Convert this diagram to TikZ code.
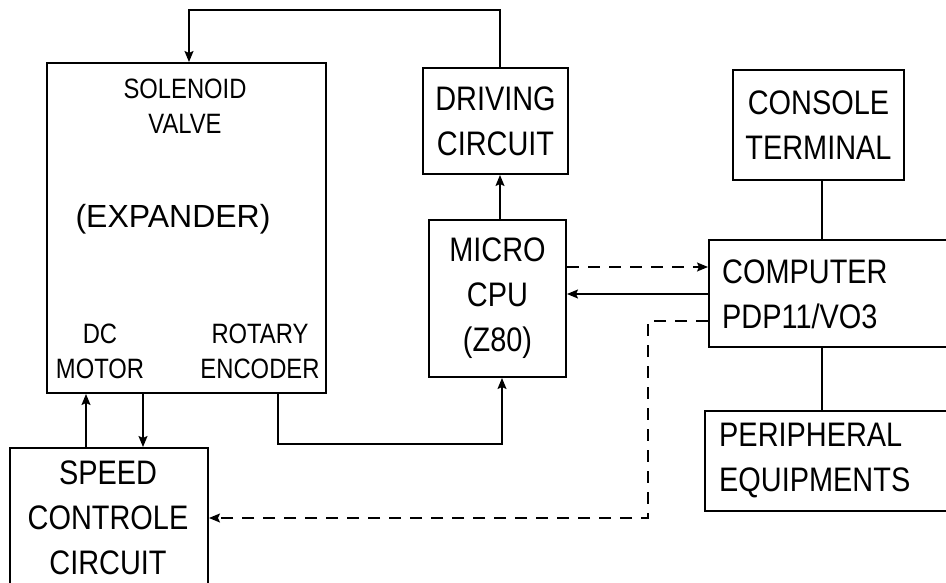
\documentclass[tikz,border=0pt]{standalone}
\usepackage{fontspec}
\setmainfont{Liberation Sans}[FakeStretch=0.85]
\newfontfamily\widefont{Liberation Sans}
\usetikzlibrary{arrows.meta,calc}
\tikzset{
  blk/.style={draw,line width=2pt,inner sep=0pt},
  big/.style={font=\fontsize{34}{45}\selectfont,align=center,inner sep=0pt},
  bigl/.style={font=\fontsize{34}{45}\selectfont,align=left,inner sep=0pt,anchor=west},
  small/.style={font=\fontsize{28}{35}\selectfont,align=center,inner sep=0pt},
  conn/.style={line width=1.4pt},
  arr/.style={conn,-{Stealth[length=11pt,width=9pt,inset=2pt]}},
  dsh/.style={dash pattern=on 12pt off 9pt}
}
\begin{document}
\begin{tikzpicture}[x=1pt,y=-1pt]
\useasboundingbox (0,0) rectangle (946,583);
% boxes
\node[blk,minimum width=279pt,minimum height=330pt] (exp) at (186.5,228) {};
\node[blk,big,minimum width=145pt,minimum height=106pt] (drv) at (495.5,121) {DRIVING\\CIRCUIT};
\node[blk,big,minimum width=137pt,minimum height=157pt] (cpu) at (497.5,298.5) {MICRO\\CPU\\(Z80)};
\node[blk,big,minimum width=171pt,minimum height=110pt] (con) at (818.5,125) {CONSOLE\\TERMINAL};
\node[blk,minimum width=251pt,minimum height=107pt] (comp) at (834.5,293.5) {};
\node[blk,minimum width=255pt,minimum height=100pt] (per) at (832.5,461) {};
\node[blk,minimum width=198pt,minimum height=160pt] (spd) at (109,528) {};
% texts
\node[small] (sol) at (185,106) {SOLENOID\\VALVE};
\node[font=\widefont\fontsize{32}{36}\selectfont,inner sep=0pt] (expt) at (173,219) {(EXPANDER)};
\node[small] (dcm) at (100,351) {DC\\MOTOR};
\node[small] (rot) at (260,351) {ROTARY\\ENCODER};
\node[bigl] (compt) at (722,294) {COMPUTER\\PDP11/VO3};
\node[bigl] (pert) at (719,461) {PERIPHERAL\\EQUIPMENTS};
\node[big] (spdt) at (108,518) {SPEED\\CONTROLE\\CIRCUIT};
% coordinates
\coordinate (tl) at (189,10);
\coordinate (tr) at (500,10);
\coordinate (e1) at (278,444);
\coordinate (e2) at (502,444);
\coordinate (m1) at (86,0);
\coordinate (m2) at (143,0);
\coordinate (d1) at (0,267);
\coordinate (s1) at (0,294);
\coordinate (d2) at (648,321);
\coordinate (d3) at (648,518);
\coordinate (vc) at (822,0);
% connectors
\draw[arr] (tr |- drv.north) -- (tr) -- (tl) -- (tl |- exp.north);
\draw[arr] (tr |- cpu.north) -- (tr |- drv.south);
\draw[arr] (e1 |- exp.south) -- (e1) -- (e2) -- (e2 |- cpu.south);
\draw[arr] (m1 |- spd.north) -- (m1 |- exp.south);
\draw[arr] (m2 |- exp.south) -- (m2 |- spd.north);
\draw[arr,dsh] (cpu.east |- d1) -- (comp.west |- d1);
\draw[arr] (comp.west |- s1) -- (cpu.east |- s1);
\draw[arr,dsh] (comp.west |- d2) -- (d2) -- (d3) -- (spd.east |- d3);
\draw[conn] (vc |- con.south) -- (vc |- comp.north);
\draw[conn] (vc |- comp.south) -- (vc |- per.north);
\end{tikzpicture}
\end{document}
